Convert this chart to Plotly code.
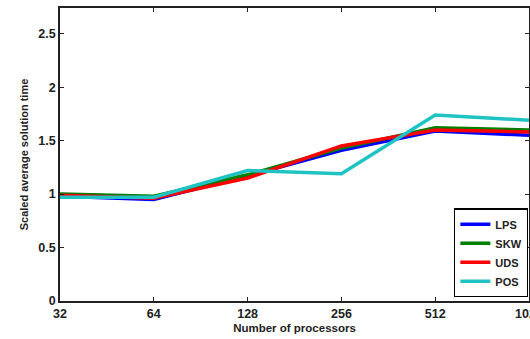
import math
import plotly.graph_objects as go

processors = [32, 64, 128, 256, 512, 1024]
tick_labels = ["32", "64", "128", "256", "512", "1024"]
y_ticks = [0, 0.5, 1, 1.5, 2, 2.5]
y_tick_labels = ["0", "0.5", "1", "1.5", "2", "2.5"]
lps = [0.98, 0.95, 1.17, 1.41, 1.59, 1.55]
skw = [1.00, 0.98, 1.18, 1.43, 1.62, 1.60]
uds = [0.99, 0.96, 1.15, 1.45, 1.60, 1.58]
pos = [0.97, 0.97, 1.22, 1.19, 1.74, 1.69]

series = [("LPS", lps, "#0000FF"), ("SKW", skw, "#008000"),
          ("UDS", uds, "#FF0000"), ("POS", pos, "#1FC3C3")]

fig = go.Figure()
for name, vals, col in series:
    fig.add_trace(go.Scatter(x=processors, y=vals, mode="lines", name=f"<b>{name}</b>",
                             line=dict(color=col, width=3.5)))

FAM = "Liberation Sans, Arial, sans-serif"
fig.update_layout(
    width=560, height=339,
    margin=dict(l=60, r=31, t=6, b=37),
    plot_bgcolor="white", paper_bgcolor="white",
    font=dict(family=FAM, size=12.5, color="#222"),
    showlegend=True,
    legend=dict(x=0.998, y=0.012, xanchor="right", yanchor="bottom",
                bordercolor="black", borderwidth=1.3, bgcolor="white",
                font=dict(family=FAM, size=11, color="#222"),
                tracegroupgap=0, itemwidth=30),
)
fig.update_xaxes(type="log", range=[math.log10(32), math.log10(1024)],
                 tickvals=processors, ticktext=[f"<b>{t}</b>" for t in tick_labels],
                 ticklabeloverflow="allow",
                 ticks="inside", ticklen=4, tickwidth=1.3, tickcolor="#222",
                 showline=True, linecolor="#222", linewidth=1.5, mirror="ticks",
                 showgrid=False, zeroline=False,
                 title=dict(text="<b>Number of processors</b>", font=dict(size=11.5), standoff=4))
fig.update_yaxes(range=[0, 2.74], tickvals=y_ticks,
                 ticktext=[f"<b>{t}</b>" for t in y_tick_labels],
                 ticks="inside", ticklen=4, tickwidth=1.3, tickcolor="#222",
                 showline=True, linecolor="#222", linewidth=1.5, mirror="ticks",
                 showgrid=False, zeroline=False,
                 title=dict(text="<b>Scaled average solution time</b>", font=dict(size=11), standoff=8))

fig.write_html("out.html", config={"displayModeBar": False},
               post_script="document.body.style.margin='0';document.body.style.overflow='hidden';")
